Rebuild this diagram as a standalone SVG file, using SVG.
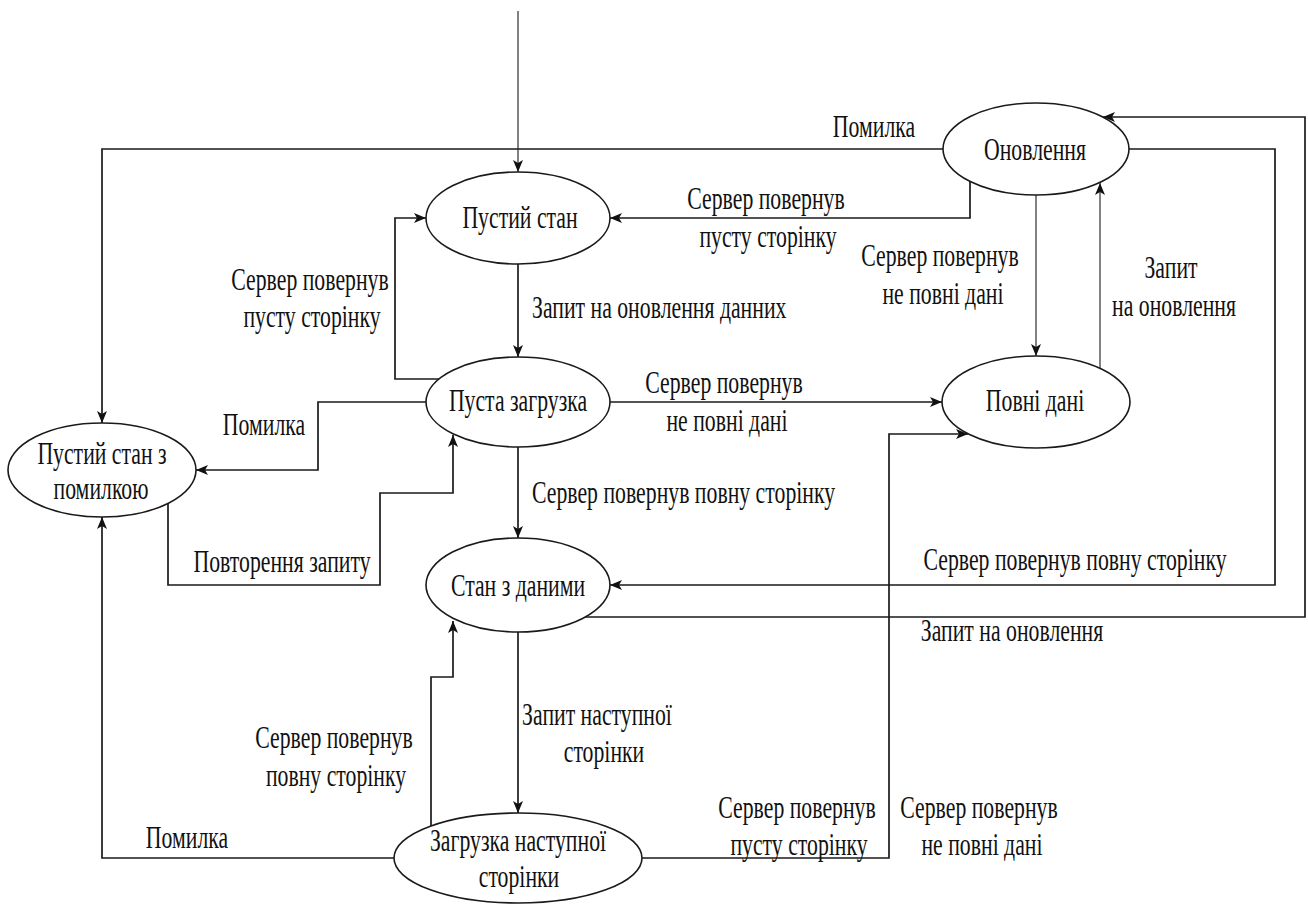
<svg xmlns="http://www.w3.org/2000/svg" width="1308" height="904" viewBox="0 0 1308 904">
<style>
.t{font-family:"Liberation Serif","Times New Roman",serif;font-size:32px;fill:#111;text-anchor:middle}
.s{text-anchor:start}
.n{fill:#fff;stroke:#1a1a1a;stroke-width:1.6}
.c{fill:none;stroke:#1a1a1a;stroke-width:1.7;marker-end:url(#arr)}
.thin{stroke-width:1.1}
.nm{marker-end:none}
</style>
<defs>
<marker id="arr" viewBox="0 0 12 10" refX="12" refY="5" markerWidth="12" markerHeight="10" markerUnits="userSpaceOnUse" orient="auto">
<path d="M0,0 L12,5 L0,10 L3,5 z" fill="#111"/>
</marker>
</defs>
<rect width="1308" height="904" fill="#fff"/>
<g id="connectors">
<g id="e-entry"><path class="c thin" d="M518,11 V172"/></g>
<g id="e-upd-err"><path class="c" d="M943,149 H102 V423"/>
<text class="t" transform="translate(874 137) scale(0.68 1)">Помилка</text></g>
<g id="e-upd-empty"><path class="c" d="M970,181 V218 H610"/>
<text class="t" transform="translate(766 209) scale(0.68 1)">Сервер повернув</text>
<text class="t" transform="translate(768 247) scale(0.68 1)">пусту сторінку</text></g>
<g id="e-empty-load"><path class="c" d="M518,264 V357"/>
<text class="t s" transform="translate(532 318) scale(0.68 1)">Запит на оновлення данних</text></g>
<g id="e-load-empty"><path class="c" d="M439,379 H395 V218 H426"/>
<text class="t" transform="translate(310 290) scale(0.68 1)">Сервер повернув</text>
<text class="t" transform="translate(312 327) scale(0.68 1)">пусту сторінку</text></g>
<g id="e-load-err"><path class="c" d="M426,402 H318 V470 H196"/>
<text class="t" transform="translate(264 435) scale(0.68 1)">Помилка</text></g>
<g id="e-err-load"><path class="c" d="M168,503 V585 H380 V493 H453 V435"/>
<text class="t" transform="translate(282 572) scale(0.68 1)">Повторення запиту</text></g>
<g id="e-load-full"><path class="c" d="M610,402 H942"/>
<text class="t" transform="translate(724 393) scale(0.68 1)">Сервер повернув</text>
<text class="t" transform="translate(727 431) scale(0.68 1)">не повні дані</text></g>
<g id="e-load-data"><path class="c" d="M518,447 V538"/>
<text class="t s" transform="translate(532 503) scale(0.68 1)">Сервер повернув повну сторінку</text></g>
<g id="e-upd-full"><path class="c thin" d="M1036,195 V356"/>
<text class="t" transform="translate(940 266) scale(0.68 1)">Сервер повернув</text>
<text class="t" transform="translate(943 304) scale(0.68 1)">не повні дані</text></g>
<g id="e-full-upd"><path class="c thin" d="M1100,368 V183"/>
<text class="t" transform="translate(1171 278) scale(0.68 1)">Запит</text>
<text class="t" transform="translate(1174 316) scale(0.68 1)">на оновлення</text></g>
<g id="e-upd-data"><path class="c" d="M1129,149 H1275 V585 H610"/>
<text class="t" transform="translate(1075 570) scale(0.68 1)">Сервер повернув повну сторінку</text></g>
<g id="e-data-upd"><path class="c" d="M585,617 H1305 V117 H1103"/>
<text class="t" transform="translate(1012 641) scale(0.68 1)">Запит на оновлення</text></g>
<g id="e-data-next"><path class="c" d="M518,632 V813"/>
<text class="t" transform="translate(597 725) scale(0.68 1)">Запит наступної</text>
<text class="t" transform="translate(604 762) scale(0.68 1)">сторінки</text></g>
<g id="e-next-data"><path class="c" d="M431,826 V677 H453 V621"/>
<text class="t" transform="translate(334 748) scale(0.68 1)">Сервер повернув</text>
<text class="t" transform="translate(336 786) scale(0.68 1)">повну сторінку</text></g>
<g id="e-next-err"><path class="c" d="M394,858 H102 V517"/>
<text class="t" transform="translate(187 848) scale(0.68 1)">Помилка</text></g>
<g id="e-next-full"><path class="c" d="M642,858 H889 V434 H968"/>
<text class="t" transform="translate(797 818) scale(0.68 1)">Сервер повернув</text>
<text class="t" transform="translate(799 855) scale(0.68 1)">пусту сторінку</text>
<text class="t" transform="translate(979 818) scale(0.68 1)">Сервер повернув</text>
<text class="t" transform="translate(982 855) scale(0.68 1)">не повні дані</text></g>
</g>
<g id="n-empty"><ellipse class="n" cx="518" cy="218" rx="92" ry="46"/>
<text class="t" transform="translate(520 228) scale(0.68 1)">Пустий стан</text></g>
<g id="n-update"><ellipse class="n" cx="1036" cy="149" rx="93" ry="46"/>
<text class="t" transform="translate(1035 160) scale(0.68 1)">Оновлення</text></g>
<g id="n-loading"><ellipse class="n" cx="518" cy="402" rx="92" ry="45"/>
<text class="t" transform="translate(518 411) scale(0.68 1)">Пуста загрузка</text></g>
<g id="n-full"><ellipse class="n" cx="1036" cy="402" rx="94" ry="46"/>
<text class="t" transform="translate(1035 411) scale(0.68 1)">Повні дані</text></g>
<g id="n-error"><ellipse class="n" cx="102" cy="470" rx="94" ry="47"/>
<text class="t" transform="translate(102 464) scale(0.68 1)">Пустий стан з</text>
<text class="t" transform="translate(101 499) scale(0.68 1)">помилкою</text></g>
<g id="n-data"><ellipse class="n" cx="518" cy="585" rx="92" ry="47"/>
<text class="t" transform="translate(518 596) scale(0.68 1)">Стан з даними</text></g>
<g id="n-next"><ellipse class="n" cx="518" cy="858" rx="124" ry="45"/>
<text class="t" transform="translate(518 851) scale(0.68 1)">Загрузка наступної</text>
<text class="t" transform="translate(519 887) scale(0.68 1)">сторінки</text></g>
</svg>
